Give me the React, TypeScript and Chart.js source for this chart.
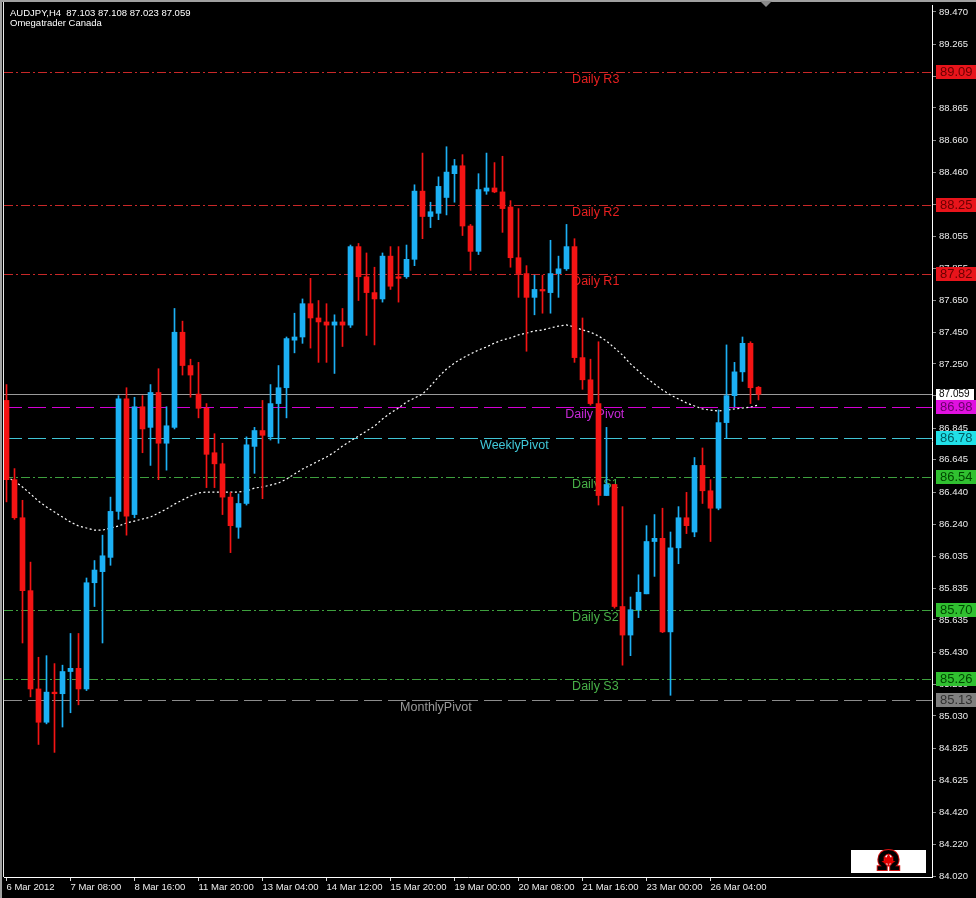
import React, { useEffect, useRef } from 'react';
import { Chart, registerables } from 'chart.js';

Chart.register(...registerables);

// ---------- data ----------
const opens = [
  87.02, 86.52, 86.28, 85.82, 85.20, 84.99, 85.18, 85.17, 85.31, 85.33,
  85.20, 85.87, 85.94, 86.03, 86.32, 87.03, 86.30, 86.98, 86.85, 87.07,
  86.75, 86.85, 87.45, 87.24, 87.06, 86.97, 86.69, 86.62, 86.41, 86.22,
  86.37, 86.73, 86.83, 86.79, 87.00, 87.10, 87.40, 87.42, 87.63, 87.54,
  87.515, 87.495, 87.515, 87.495, 87.99, 87.80, 87.70, 87.66, 87.93, 87.80,
  87.80, 87.91, 88.34, 88.18, 88.20, 88.30, 88.45, 88.50, 88.12, 87.96,
  88.34, 88.36, 88.335, 88.24, 87.92, 87.82, 87.67, 87.72, 87.70, 87.82,
  87.85, 87.99, 87.29, 87.15, 87.00, 86.42, 86.49, 85.72, 85.54, 85.70,
  85.80, 86.13, 86.15, 85.56, 86.09, 86.28, 86.19, 86.61, 86.45, 86.34,
  86.88, 87.05, 87.20, 87.38, 87.103,
];
const highs = [
  87.12, 86.59, 86.39, 86.00, 85.40, 85.41, 85.36, 85.35, 85.55, 85.55,
  85.90, 86.01, 86.17, 86.41, 87.05, 87.10, 87.04, 87.05, 87.12, 87.22,
  86.98, 87.60, 87.52, 87.28, 87.26, 87.00, 86.81, 86.75, 86.44, 86.43,
  86.79, 86.85, 87.02, 87.12, 87.24, 87.42, 87.57, 87.66, 87.79, 87.65,
  87.63, 87.56, 87.60, 88.00, 88.01, 87.95, 87.86, 87.95, 87.99, 87.99,
  88.00, 88.38, 88.58, 88.27, 88.43, 88.62, 88.54, 88.57, 88.13, 88.45,
  88.58, 88.52, 88.56, 88.28, 88.23, 87.87, 87.81, 87.81, 88.03, 87.93,
  88.13, 88.04, 87.54, 87.28, 87.39, 86.85, 86.49, 86.35, 85.78, 85.92,
  86.23, 86.30, 86.34, 86.19, 86.35, 86.44, 86.66, 86.72, 86.52, 86.96,
  87.37, 87.26, 87.42, 87.39, 87.108,
];
const lows = [
  86.38, 86.27, 85.49, 85.15, 84.85, 84.98, 84.80, 84.96, 85.05, 85.10,
  85.19, 85.72, 85.49, 85.98, 86.27, 86.17, 86.28, 86.69, 86.61, 86.52,
  86.58, 86.84, 87.18, 87.04, 86.91, 86.47, 86.47, 86.30, 86.06, 86.15,
  86.36, 86.56, 86.40, 86.77, 86.75, 86.91, 87.32, 87.38, 87.35, 87.26,
  87.26, 87.19, 87.36, 87.48, 87.65, 87.43, 87.37, 87.64, 87.72, 87.64,
  87.79, 87.87, 88.04, 88.11, 88.16, 88.19, 88.27, 88.06, 87.84, 87.94,
  88.32, 88.33, 88.08, 87.86, 87.67, 87.33, 87.56, 87.57, 87.57, 87.67,
  87.84, 87.26, 87.09, 86.99, 86.36, 86.42, 85.71, 85.35, 85.41, 85.65,
  85.80, 85.91, 85.555, 85.16, 85.99, 86.18, 86.16, 86.37, 86.13, 86.33,
  86.78, 86.98, 87.14, 87.00, 87.023,
];
const closes = [
  86.52, 86.28, 85.82, 85.20, 84.99, 85.18, 85.17, 85.31, 85.33, 85.20,
  85.87, 85.95, 86.04, 86.32, 87.03, 86.29, 86.98, 86.84, 87.07, 86.75,
  86.86, 87.45, 87.24, 87.18, 86.97, 86.68, 86.62, 86.41, 86.23, 86.37,
  86.74, 86.83, 86.80, 87.00, 87.10, 87.41, 87.42, 87.63, 87.54, 87.515,
  87.495, 87.515, 87.495, 87.99, 87.80, 87.70, 87.66, 87.93, 87.74, 87.79,
  87.91, 88.34, 88.18, 88.21, 88.37, 88.46, 88.50, 88.12, 87.96, 88.35,
  88.36, 88.335, 88.23, 87.92, 87.82, 87.67, 87.72, 87.71, 87.82, 87.85,
  87.99, 87.29, 87.15, 87.00, 86.42, 86.49, 85.72, 85.54, 85.70, 85.81,
  86.13, 86.15, 85.56, 86.09, 86.28, 86.23, 86.61, 86.45, 86.34, 86.88,
  87.05, 87.20, 87.38, 87.10, 87.059,
];
const maValues = [
  86.537, 86.512, 86.474, 86.430, 86.385, 86.348, 86.316, 86.284, 86.253, 86.228,
  86.215, 86.202, 86.202, 86.215, 86.228, 86.247, 86.259, 86.272, 86.284, 86.310,
  86.335, 86.366, 86.392, 86.417, 86.436, 86.442, 86.442, 86.442, 86.442, 86.442,
  86.448, 86.467, 86.474, 86.486, 86.499, 86.524, 86.556, 86.587, 86.612, 86.638,
  86.663, 86.694, 86.732, 86.764, 86.795, 86.827, 86.858, 86.903, 86.940, 86.972,
  87.010, 87.035, 87.060, 87.111, 87.168, 87.218, 87.256, 87.287, 87.313, 87.338,
  87.357, 87.382, 87.401, 87.414, 87.433, 87.445, 87.458, 87.464, 87.477, 87.489,
  87.496, 87.483, 87.464, 87.451, 87.426, 87.395, 87.351, 87.306, 87.250, 87.205,
  87.161, 87.123, 87.086, 87.054, 87.029, 87.004, 86.985, 86.966, 86.959, 86.953,
  86.959, 86.966, 86.972, 86.978, 86.991,
];
const xTickLabels = [
  '6 Mar 2012', '7 Mar 08:00', '8 Mar 16:00', '11 Mar 20:00', '13 Mar 04:00', '14 Mar 12:00',
  '15 Mar 20:00', '19 Mar 00:00', '20 Mar 08:00', '21 Mar 16:00', '23 Mar 00:00', '26 Mar 04:00',
];
const barsPerTick = 8;
const yTickValues = [
  89.470, 89.265, 89.065, 88.865, 88.660, 88.460, 88.255, 88.055, 87.855, 87.650,
  87.450, 87.250, 87.050, 86.845, 86.645, 86.440, 86.240, 86.035, 85.835, 85.635,
  85.430, 85.230, 85.030, 84.825, 84.625, 84.420, 84.220, 84.020,
];
const levelNames = ['Daily R3', 'Daily R2', 'Daily R1', 'Daily Pivot', 'WeeklyPivot', 'Daily S1', 'Daily S2', 'Daily S3', 'MonthlyPivot'];
const levelValues = [89.09, 88.25, 87.82, 86.98, 86.78, 86.54, 85.70, 85.26, 85.13];
const lastPrice = 87.059;
const titleLine1 = 'AUDJPY,H4  87.103 87.108 87.023 87.059';
const titleLine2 = 'Omegatrader Canada';

// ---------- styles ----------
const FONT = '"Liberation Sans", Arial, sans-serif';
const BULL = '#1cb0f4';
const BEAR = '#f41414';
const DASHDOT = [9, 3, 2, 3];
const LONGDASH = [18, 6];
const RED_S = { line: '#c82828', text: '#e82020', box: '#e8141b', boxText: '#6a0000', dash: DASHDOT, at: 70.7 };
const GRN_S = { line: '#3ea03e', text: '#48b048', box: '#30c030', boxText: '#004800', dash: DASHDOT, at: 70.7 };
const levelStyles = [
  RED_S, RED_S, RED_S,
  { line: '#d400d4', text: '#c828d8', box: '#e010e0', boxText: '#6a006a', dash: LONGDASH, at: 69.85 },
  { line: '#40c4d4', text: '#40c8d8', box: '#20e0e8', boxText: '#005a60', dash: LONGDASH, at: 59.2 },
  GRN_S, GRN_S, GRN_S,
  { line: '#8c8c8c', text: '#9a9a9a', box: '#808080', boxText: '#303030', dash: LONGDASH, at: 49.2 },
];

const decorPlugin = {
  id: 'decor',
  beforeDraw(chart: any) {
    const ctx = chart.ctx;
    ctx.save();
    ctx.fillStyle = '#000';
    ctx.fillRect(0, 0, chart.width, chart.height);
    ctx.restore();
  },
  beforeDatasetsDraw(chart: any) {
    const { ctx, chartArea: a, scales } = chart;
    const x = scales.x;
    const y = scales.y;
    ctx.save();
    ctx.lineWidth = 1;
    const lp = Math.round(y.getPixelForValue(lastPrice)) + 0.5;
    ctx.setLineDash([]);
    ctx.strokeStyle = '#9a9a9a';
    ctx.beginPath();
    ctx.moveTo(a.left, lp);
    ctx.lineTo(a.right, lp);
    ctx.stroke();
    levelValues.forEach((v, i) => {
      const st = levelStyles[i];
      const py = Math.round(y.getPixelForValue(v)) + 0.5;
      ctx.strokeStyle = st.line;
      ctx.setLineDash(st.dash);
      ctx.beginPath();
      ctx.moveTo(a.left, py);
      ctx.lineTo(a.right, py);
      ctx.stroke();
      ctx.setLineDash([]);
      ctx.fillStyle = st.text;
      ctx.font = '12.5px ' + FONT;
      ctx.textAlign = 'left';
      ctx.textBaseline = 'middle';
      ctx.fillText(levelNames[i], x.getPixelForValue(st.at), py + 7);
    });
    ctx.restore();
  },
  afterDraw(chart: any) {
    const { ctx, chartArea: a, scales } = chart;
    const y = scales.y;
    ctx.save();
    ctx.fillStyle = '#a0a0a0';
    ctx.fillRect(0, 0, chart.width, 2);
    ctx.fillRect(0, 0, 2, chart.height);
    ctx.fillStyle = '#e8e8e8';
    ctx.fillRect(3, 2, 1, a.bottom - 2);
    ctx.fillStyle = '#8a8a8a';
    ctx.beginPath();
    ctx.moveTo(760, 1);
    ctx.lineTo(772, 1);
    ctx.lineTo(766, 7);
    ctx.closePath();
    ctx.fill();
    levelValues.forEach((v, i) => {
      const st = levelStyles[i];
      const py = Math.round(y.getPixelForValue(v));
      ctx.fillStyle = st.box;
      ctx.fillRect(a.right + 4, py - 7, 976 - a.right - 4, 14);
      ctx.fillStyle = st.boxText;
      ctx.font = '13px ' + FONT;
      ctx.textAlign = 'left';
      ctx.textBaseline = 'middle';
      ctx.fillText(v.toFixed(2), a.right + 8, py + 0.5);
    });
    const lp = Math.round(y.getPixelForValue(lastPrice));
    ctx.fillStyle = '#ffffff';
    ctx.fillRect(a.right + 4, lp - 5, 38, 11);
    ctx.fillStyle = '#000';
    ctx.font = '10px ' + FONT;
    ctx.textBaseline = 'middle';
    ctx.fillText(lastPrice.toFixed(3), a.right + 7, lp + 0.5);
    ctx.fillStyle = '#ffffff';
    ctx.font = '9.5px ' + FONT;
    ctx.fillText(titleLine1, 10, 13);
    ctx.fillText(titleLine2, 10, 23.5);
    const lx = 851, ly = 850, lw = 75, lh = 23;
    ctx.fillStyle = '#ffffff';
    ctx.fillRect(lx, ly, lw, lh);
    ctx.font = 'bold 27px "DejaVu Sans", sans-serif';
    ctx.textAlign = 'center';
    ctx.textBaseline = 'middle';
    ctx.lineWidth = 2;
    ctx.strokeStyle = '#d01010';
    ctx.strokeText('\u03A9', lx + lw / 2, ly + lh / 2 + 1);
    ctx.fillStyle = '#000';
    ctx.fillText('\u03A9', lx + lw / 2, ly + lh / 2 + 1);
    const cx = lx + lw / 2, cy = ly + lh / 2 - 1;
    ctx.fillStyle = '#e00000';
    ctx.beginPath();
    const pts = [[0, -7], [2, -3], [5, -4], [4, 0], [7, 1], [3, 3], [1, 3], [1, 6], [-1, 6], [-1, 3], [-3, 3], [-7, 1], [-4, 0], [-5, -4], [-2, -3]];
    pts.forEach((p, k) => (k ? ctx.lineTo(cx + p[0], cy + p[1]) : ctx.moveTo(cx + p[0], cy + p[1])));
    ctx.closePath();
    ctx.fill();
    ctx.restore();
  },
};

export default function App() {
  const ref = useRef<HTMLCanvasElement | null>(null);
  useEffect(() => {
    if (!ref.current) return;
    document.body.style.margin = '0';
    document.body.style.background = '#000';
    const idx = opens.map((_, i) => i);
    const colors = idx.map((i) => (closes[i] >= opens[i] ? BULL : BEAR));
    const chart = new Chart(ref.current, {
      type: 'bar',
      data: {
        datasets: [
          {
            type: 'bar',
            data: idx.map((i) => ({ x: i, y: [opens[i], closes[i]] })) as any,
            backgroundColor: colors,
            borderWidth: 0,
            barThickness: 5,
            minBarLength: 1,
            grouped: false,
            order: 0,
          } as any,
          {
            type: 'bar',
            data: idx.map((i) => ({ x: i, y: [lows[i], highs[i]] })) as any,
            backgroundColor: colors,
            borderWidth: 0,
            barThickness: 1,
            minBarLength: 1,
            grouped: false,
            order: 1,
          } as any,
          {
            type: 'line',
            data: idx.map((i) => ({ x: i, y: maValues[i] })) as any,
            borderColor: '#ffffff',
            borderWidth: 1.2,
            borderDash: [2, 2.5],
            pointRadius: 0,
            tension: 0,
            fill: false,
            order: 2,
          } as any,
        ],
      },
      options: {
        animation: false,
        responsive: false,
        devicePixelRatio: 1,
        events: [],
        layout: { padding: { left: 4, top: 5, right: 0, bottom: 0 } },
        plugins: { legend: { display: false }, tooltip: { enabled: false } },
        scales: {
          x: {
            type: 'linear',
            position: 'bottom',
            offset: false,
            min: -0.3125,
            max: 115.6875,
            afterBuildTicks: (s: any) => {
              s.ticks = xTickLabels.map((_, k) => ({ value: k * barsPerTick }));
            },
            afterFit: (s: any) => {
              s.height = 21;
              s.paddingLeft = 0;
              s.paddingRight = 0;
            },
            ticks: {
              callback: (v: any) => xTickLabels[Math.round(Number(v) / barsPerTick)] ?? '',
              align: 'start',
              color: '#ececec',
              font: { family: FONT, size: 9.5 },
              padding: 1,
              maxRotation: 0,
              minRotation: 0,
              autoSkip: false,
            },
            grid: { offset: false, drawOnChartArea: false, drawTicks: true, tickLength: 4, color: '#d8d8d8' },
            border: { display: true, color: '#ffffff' },
          } as any,
          y: {
            type: 'linear',
            position: 'right',
            min: 84.014,
            max: 89.514,
            afterBuildTicks: (s: any) => {
              s.ticks = yTickValues.map((v) => ({ value: v }));
            },
            afterFit: (s: any) => {
              s.width = 44;
              s.paddingTop = 0;
              s.paddingBottom = 0;
            },
            ticks: {
              callback: (v: any) => Number(v).toFixed(3),
              color: '#ececec',
              font: { family: FONT, size: 9.5 },
              padding: 3,
              autoSkip: false,
            },
            grid: { drawOnChartArea: false, drawTicks: true, tickLength: 4, color: '#8a8a8a' },
            border: { display: true, color: '#ffffff' },
          } as any,
        },
      },
      plugins: [decorPlugin],
    });
    return () => chart.destroy();
  }, []);
  return (
    <div style={{ position: 'absolute', left: 0, top: 0, width: 976, height: 898, background: '#000' }}>
      <canvas ref={ref} width={976} height={898} style={{ display: 'block' }} />
    </div>
  );
}
